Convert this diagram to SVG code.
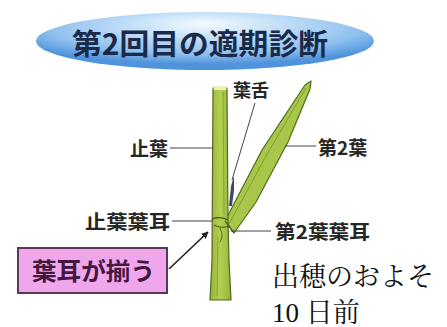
<svg xmlns="http://www.w3.org/2000/svg" width="447" height="327" viewBox="0 0 447 327">
  <defs>
    <radialGradient id="titleFill" cx="0.5" cy="0.28" r="0.62" fx="0.5" fy="0.2">
      <stop offset="0" stop-color="#f4faff"/>
      <stop offset="0.35" stop-color="#c4e0f8"/>
      <stop offset="0.75" stop-color="#8fc0ee"/>
      <stop offset="1" stop-color="#4f93dc"/>
    </radialGradient>
    <linearGradient id="stemFill" x1="0" y1="0" x2="1" y2="0">
      <stop offset="0" stop-color="#94b53a"/>
      <stop offset="0.5" stop-color="#b3cf52"/>
      <stop offset="1" stop-color="#93b43a"/>
    </linearGradient>
    <marker id="arrowHead" viewBox="0 0 10 10" refX="9" refY="5" markerWidth="7" markerHeight="7" orient="auto" markerUnits="userSpaceOnUse">
      <path d="M0,0 L10,5 L0,10 z" fill="#222"/>
    </marker>
  </defs>
  <style>
    .label { font-family: "Noto Sans CJK JP", "Liberation Sans", sans-serif; font-weight: bold; fill: #262626; }
    .leader { stroke: #444; stroke-width: 1; fill: none; }
    .leaf { stroke: #4f6c1c; stroke-width: 1.2; stroke-linejoin: round; }
    .note { font-family: "Liberation Serif", "Noto Serif CJK JP", "Noto Sans CJK JP", serif; font-size: 27px; fill: #111; }
  </style>

  <rect width="447" height="327" fill="#ffffff"/>

  <!-- heading badge -->
  <g id="title">
    <ellipse cx="205" cy="41" rx="169" ry="29" fill="url(#titleFill)"/>
    <text x="72" y="55" class="label" font-size="29" style="fill:#1b2a48" textLength="256" lengthAdjust="spacingAndGlyphs">第2回目の適期診断</text>
  </g>

  <!-- plant: flag leaf, second leaf, ligule and auricles -->
  <g id="plant">
    <!-- second leaf -->
    <path class="leaf" fill="#a8c64a" d="M225,221 L262,150 L305,85 L311,81 L310,89 L288,142 L256,202 L234,233 Z"/>
    <path d="M229,224 L266,156 L306,88" stroke="#7a972e" stroke-width="0.9" fill="none"/>
    <!-- flag leaf and stem -->
    <path class="leaf" fill="url(#stemFill)" d="M213,88 L227,88 L228,220 L229,260 L231,300 L210,300 L212,260 Z"/>
    <rect x="213.6" y="86" width="12.8" height="4" fill="#eef0b8"/>
    <path d="M223,92 L224,215" stroke="#7f9d30" stroke-width="0.8" fill="none"/>
    <path d="M218,236 L217,296" stroke="#7f9d30" stroke-width="0.8" fill="none"/>
    <!-- ligule -->
    <path d="M229,206 L231,186 L234,176 L234,190 L232,206 Z" fill="#3c4a5c"/>
    <!-- auricles at the collar -->
    <path d="M212,219 Q220,216 228,220" stroke="#3e5418" stroke-width="1.2" fill="none"/>
    <path d="M214,225 Q221,229 230,226" stroke="#3e5418" stroke-width="1" fill="none"/>
    <path d="M220,228 Q224,236 220,242" stroke="#4e6a1e" stroke-width="1" fill="none"/>
    <path d="M225,221 L234,233" stroke="#3e5418" stroke-width="1.2" fill="none"/>
  </g>

  <!-- leader lines and arrow -->
  <g id="connectors">
    <line class="leader" x1="255" y1="103" x2="232" y2="180" stroke="#777" stroke-width="0.7"/>
    <line class="leader" x1="170" y1="148" x2="213" y2="148"/>
    <line class="leader" x1="285" y1="146" x2="316" y2="146"/>
    <line class="leader" x1="172" y1="221" x2="213" y2="221"/>
    <line class="leader" x1="231" y1="231" x2="271" y2="231"/>
    <line x1="169" y1="269" x2="208" y2="232" stroke="#222" stroke-width="1.6" marker-end="url(#arrowHead)"/>
  </g>

  <g id="label-ligule">
    <text x="233" y="97" class="label" font-size="18">葉舌</text>
  </g>
  <g id="label-flag-leaf">
    <text x="168" y="156" class="label" font-size="19" text-anchor="end">止葉</text>
  </g>
  <g id="label-second-leaf">
    <text x="318" y="155" class="label" font-size="19">第2葉</text>
  </g>
  <g id="label-flag-auricle">
    <text x="170" y="229" class="label" font-size="19" text-anchor="end" textLength="85" lengthAdjust="spacingAndGlyphs">止葉葉耳</text>
  </g>
  <g id="label-second-auricle">
    <text x="275" y="239" class="label" font-size="19" textLength="95" lengthAdjust="spacingAndGlyphs">第2葉葉耳</text>
  </g>

  <g id="callout">
    <rect x="18" y="248" width="149" height="45" fill="#f0a6ea" stroke="#573857" stroke-width="2"/>
    <text x="32" y="280" class="label" font-size="24" style="fill:#43183f" textLength="123" lengthAdjust="spacingAndGlyphs">葉耳が揃う</text>
  </g>

  <g id="note">
    <text x="272" y="286" class="note">出穂のおよそ</text>
    <text x="272" y="322" class="note">10 日前</text>
  </g>
</svg>
